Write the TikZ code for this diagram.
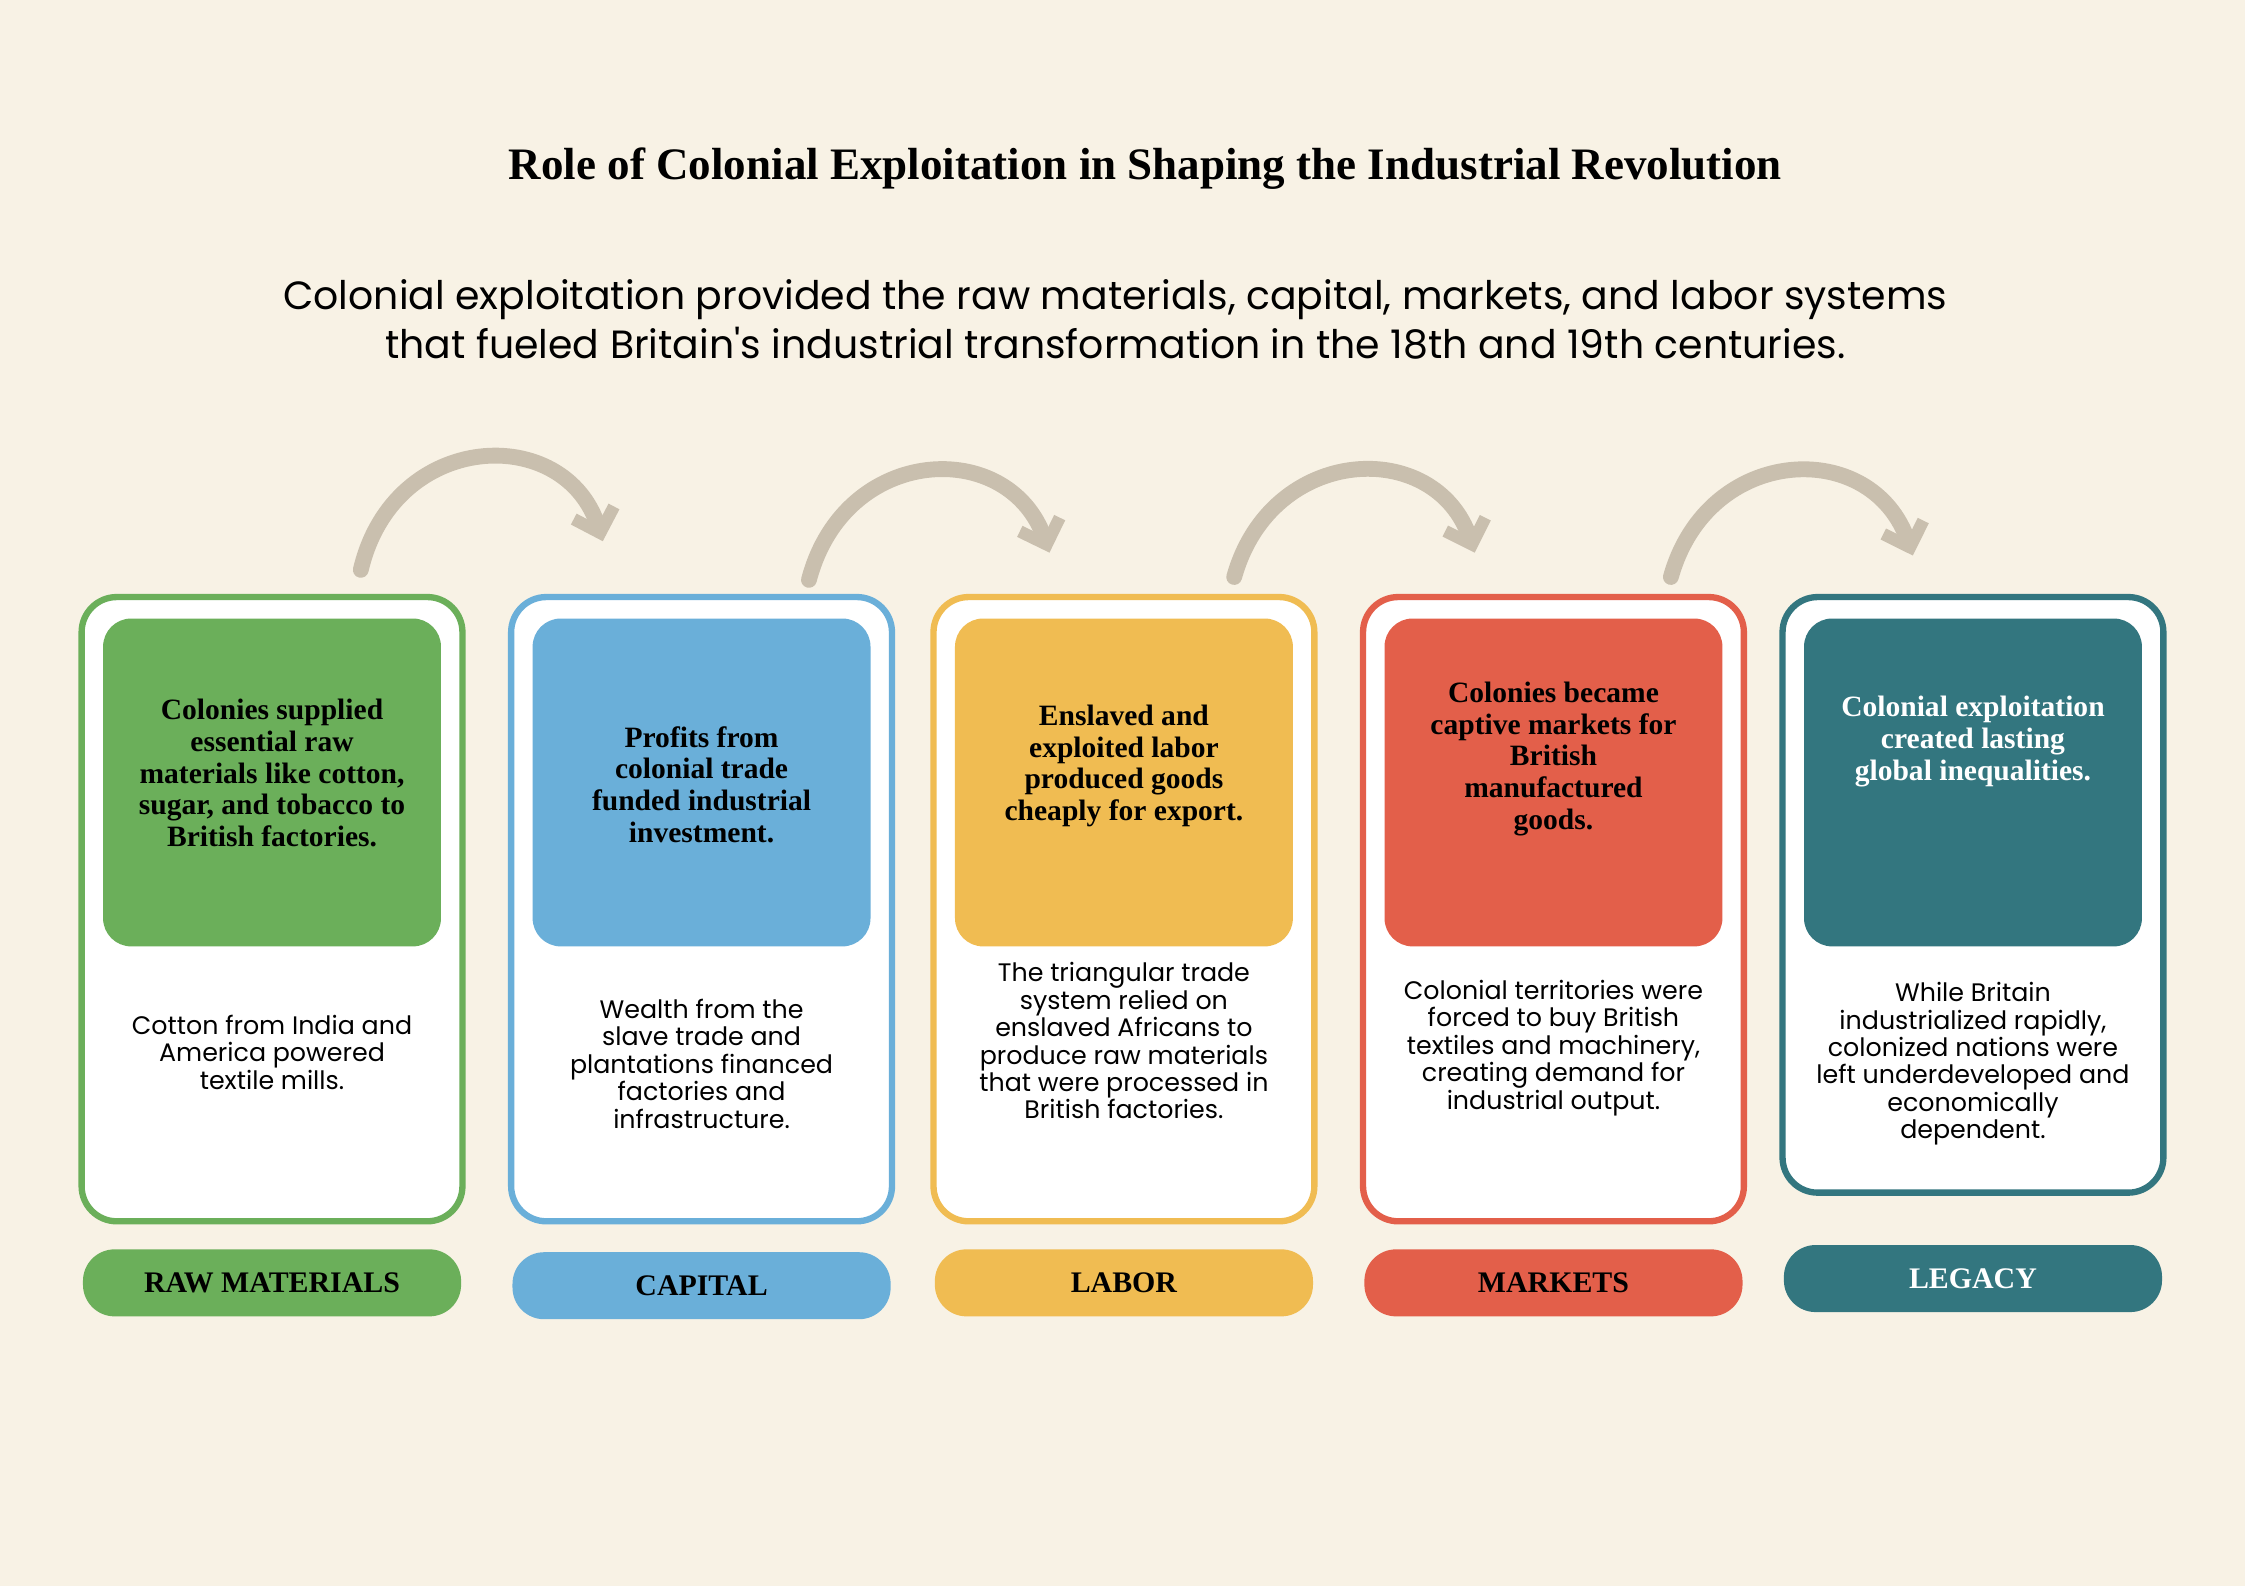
\documentclass[tikz,border=0pt]{standalone}
\usepackage{fontspec}
\setmainfont{Liberation Serif}
\newfontfamily\bodyfont{Poppins}
\usetikzlibrary{arrows.meta}
\definecolor{paper}{HTML}{F8F2E5}
\definecolor{flowgray}{HTML}{C9BFAE}
\definecolor{cgreen}{HTML}{6BAF5A}
\definecolor{cblue}{HTML}{6AAFD9}
\definecolor{cyellow}{HTML}{F0BC52}
\definecolor{cred}{HTML}{E35F4A}
\definecolor{cteal}{HTML}{33767F}
\tikzset{
	cardframe/.style={rounded corners=10pt, line width=1.8pt, fill=white},
	headbox/.style={rounded corners=8pt, fill=#1},
	headtext/.style={font=\fontsize{8.4}{9}\selectfont\bfseries, align=center},
	bodytext/.style={font=\bodyfont\fontsize{7.2}{7.8}\selectfont, align=center},
	tagpill/.style={rounded corners=9pt, fill=#1, minimum width=3.78cm, minimum height=0.67cm, font=\fontsize{8.5}{9}\selectfont\bfseries},
	flow/.style={line width=4.5pt, flowgray, line cap=round, -{Straight Barb[length=6pt,width=12pt,line width=3.5pt]}}
}
\begin{document}
\begin{tikzpicture}[x=0.01432cm, y=-0.01432cm]
	\fill[paper] (0,0) rectangle (1568,1108);
	\useasboundingbox (0,0) rectangle (1568,1108);

	% title and intro
	\node[font=\fontsize{12.8}{14}\selectfont\bfseries] (title) at (800,118) {Role of Colonial Exploitation in Shaping the Industrial Revolution};
	\node[font=\bodyfont\fontsize{11.2}{13.8}\selectfont, align=center] (intro) at (779,223)
		{Colonial exploitation provided the raw materials, capital, markets, and labor systems\\that fueled Britain's industrial transformation in the 18th and 19th centuries.};

	% cards
	\foreach \i/\x/\bot/\col/\hc/\hy/\by/\ty/\head/\body/\tag in {
		1/57/853/cgreen/black/540/735/896/{Colonies supplied\\essential raw\\materials like cotton,\\sugar, and tobacco to\\British factories.}/{Cotton from India and\\America powered\\textile mills.}/RAW MATERIALS,
		2/357/853/cblue/black/548/743/898/{Profits from\\colonial trade\\funded industrial\\investment.}/{Wealth from the\\slave trade and\\plantations financed\\factories and\\infrastructure.}/CAPITAL,
		3/652/853/cyellow/black/535/727/896/{Enslaved and\\exploited labor\\produced goods\\cheaply for export.}/{The triangular trade\\system relied on\\enslaved Africans to\\produce raw materials\\that were processed in\\British factories.}/LABOR,
		4/952/853/cred/black/530/732/896/{Colonies became\\captive markets for\\British\\manufactured\\goods.}/{Colonial territories were\\forced to buy British\\textiles and machinery,\\creating demand for\\industrial output.}/MARKETS,
		5/1245/833/cteal/white/518/743/893/{Colonial exploitation\\created lasting\\global inequalities.}/{While Britain\\industrialized rapidly,\\colonized nations were\\left underdeveloped and\\economically\\dependent.}/LEGACY}
	{
		\draw[cardframe, draw=\col] (\x,417) rectangle (\x+266,\bot);
		\fill[headbox=\col] (\x+15,432) rectangle (\x+251,661);
		\node[headtext, text=\hc] (head\i) at (\x+133,\hy) {\head};
		\node[bodytext] (body\i) at (\x+133,\by) {\body};
		\node[tagpill=\col, text=\hc] (tag\i) at (\x+133,\ty) {\tag};
	}

	% flow arrows between cards
	\draw[flow] (252,398) .. controls (275,300) and (395,295) .. (421,378);
	\draw[flow] (565,405) .. controls (590,310) and (705,305) .. (733,386);
	\draw[flow] (862,403) .. controls (888,310) and (1003,305) .. (1030,386);
	\draw[flow] (1167,403) .. controls (1193,310) and (1308,305) .. (1336,388);
\end{tikzpicture}
\end{document}
